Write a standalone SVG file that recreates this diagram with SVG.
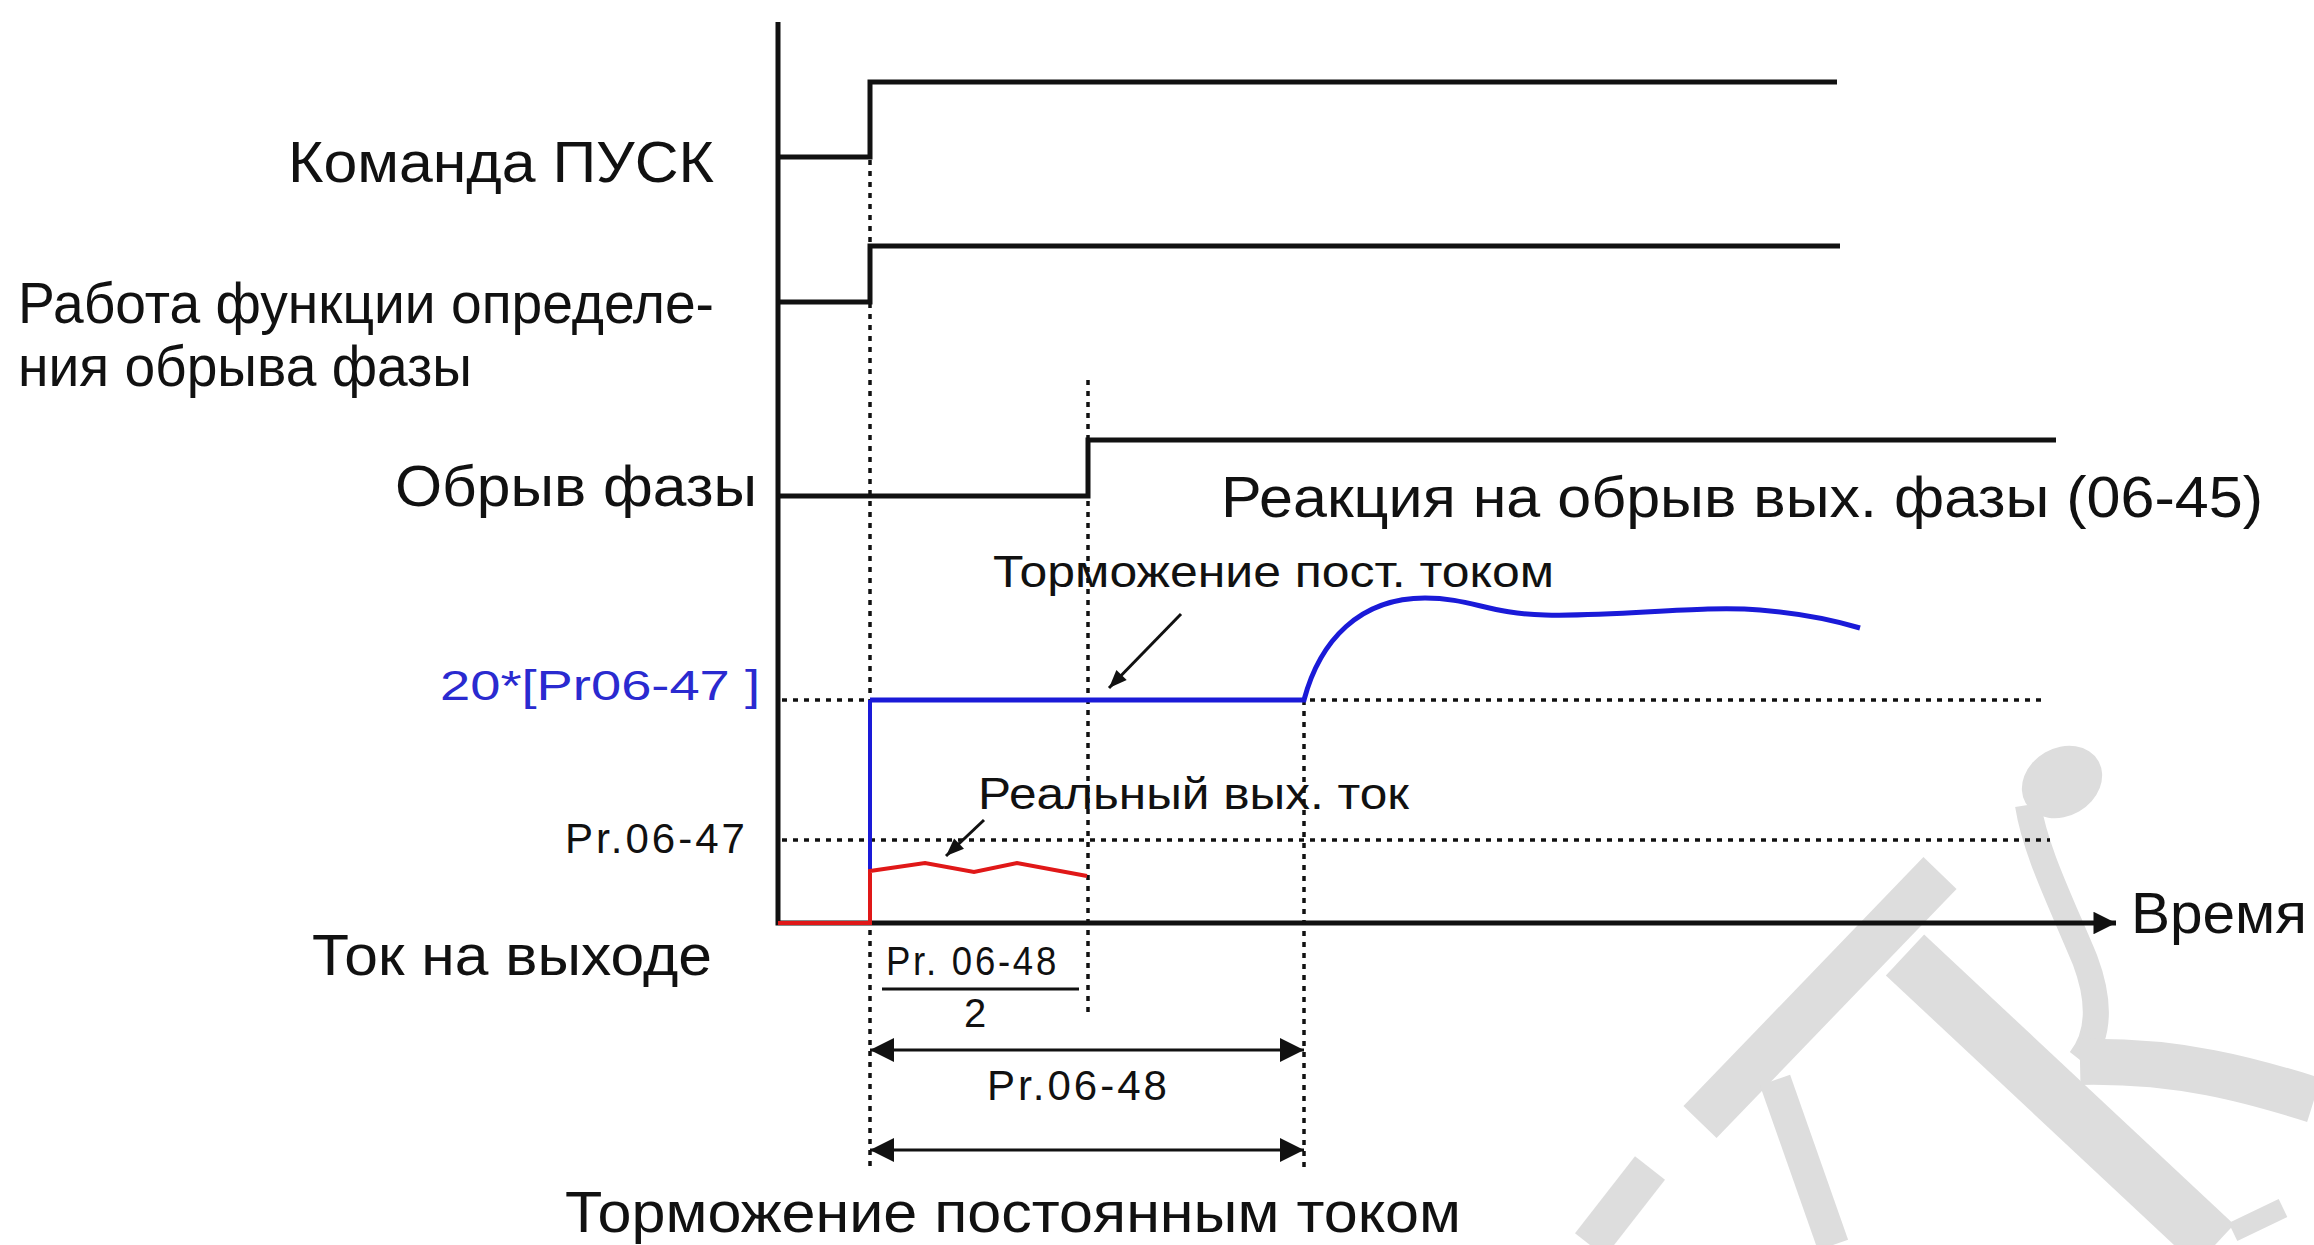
<svg xmlns="http://www.w3.org/2000/svg" width="2314" height="1245" viewBox="0 0 2314 1245">
<style>
text{font-family:"Liberation Sans",Arial,sans-serif;fill:#111}
.big{font-size:58px}
.sm{font-size:44px}
.pr{font-size:42px;letter-spacing:3px}
.sig{fill:none;stroke:#111;stroke-width:5}
.axis{fill:none;stroke:#111;stroke-width:5}
.dot{fill:none;stroke:#111;stroke-width:3.5;stroke-dasharray:5 6}
.wm{fill:none;stroke:#dddddd;stroke-linecap:butt}
</style>
<defs>
<marker id="ah" viewBox="0 0 10 10" refX="10" refY="5" markerWidth="9" markerHeight="8" orient="auto-start-reverse" markerUnits="strokeWidth">
<path d="M0,0 L10,5 L0,10 z" fill="#111"/>
</marker>
<marker id="ax" viewBox="0 0 10 10" refX="10" refY="5" markerWidth="5.5" markerHeight="4.5" orient="auto" markerUnits="strokeWidth">
<path d="M0,0 L10,5 L0,10 z" fill="#111"/>
</marker>
<marker id="pt" viewBox="0 0 10 10" refX="10" refY="5" markerWidth="8" markerHeight="6" orient="auto" markerUnits="strokeWidth">
<path d="M0,1 L10,5 L0,9 z" fill="#111"/>
</marker>
</defs>
<g id="watermark">
<path class="wm" stroke-width="46" d="M1940,873 L1700,1122"/>
<path class="wm" stroke-width="56" d="M1905,955 L2215,1245"/>
<path class="wm" stroke-width="38" d="M1650,1168 L1590,1245"/>
<path class="wm" stroke-width="32" d="M1775,1080 L1833,1245"/>
<path class="wm" stroke-width="26" d="M2028,805 C2035,850 2060,900 2085,960 C2100,1000 2100,1035 2080,1060"/>
<ellipse cx="2062" cy="782" rx="42" ry="34" fill="#dddddd" transform="rotate(-30 2062 782)"/>
<path class="wm" stroke-width="46" d="M2080,1062 C2180,1060 2250,1080 2314,1100"/>
<path class="wm" stroke-width="20" d="M2233,1232 L2283,1208"/>
</g>
<g id="axes">
<path class="axis" d="M778,22 L778,923 L2116,923" marker-end="url(#ax)"/>
</g>
<g id="guides">
<path class="dot" d="M870,160 L870,1167"/>
<path class="dot" d="M1088,380 L1088,1016"/>
<path class="dot" d="M1304,700 L1304,1167"/>
<path class="dot" d="M782,700 L2044,700"/>
<path class="dot" d="M782,840 L2050,840"/>
</g>
<g id="sig-pusk">
<path class="sig" d="M778,157 L870,157 L870,82 L1837,82"/>
<text class="big" x="288" y="182" textLength="426" lengthAdjust="spacingAndGlyphs">Команда ПУСК</text>
</g>
<g id="sig-detect">
<path class="sig" d="M778,302 L870,302 L870,246 L1840,246"/>
<text class="big" x="18" y="323" textLength="696" lengthAdjust="spacingAndGlyphs">Работа функции определе-</text>
<text class="big" x="18" y="386" textLength="454" lengthAdjust="spacingAndGlyphs">ния обрыва фазы</text>
</g>
<g id="sig-phaseloss">
<path class="sig" d="M778,496 L1088,496 L1088,440 L2056,440"/>
<text class="big" x="395" y="506" textLength="362" lengthAdjust="spacingAndGlyphs">Обрыв фазы</text>
<text class="big" x="1221" y="517" textLength="1042" lengthAdjust="spacingAndGlyphs">Реакция на обрыв вых. фазы (06-45)</text>
</g>
<g id="current">
<path d="M870,700 L870,871" fill="none" stroke="#1a1ad8" stroke-width="4"/>
<path d="M870,700 L1304,700 C1320,640 1360,598 1425,598 C1470,598 1490,614 1545,615 C1620,617 1700,605 1760,610 C1810,614 1840,622 1860,628" fill="none" stroke="#1a1ad8" stroke-width="5"/>
<path d="M778,923 L870,923 L870,871 L925,863 L974,872 L1017,863 L1087,876" fill="none" stroke="#e01818" stroke-width="4"/>
<text x="440" y="700" textLength="320" lengthAdjust="spacingAndGlyphs" style="font-size:42px;fill:#2a2ad0">20*[Pr06-47 ]</text>
<text class="pr" x="565" y="853" textLength="183" lengthAdjust="spacingAndGlyphs">Pr.06-47</text>
<text class="big" x="312" y="975" textLength="400" lengthAdjust="spacingAndGlyphs">Ток на выходе</text>
<text class="big" x="2131" y="933" textLength="176" lengthAdjust="spacingAndGlyphs">Время</text>
</g>
<g id="annotations">
<path d="M1181,614 L1109,688" fill="none" stroke="#111" stroke-width="3" marker-end="url(#pt)"/>
<text class="sm" x="993" y="587" textLength="561" lengthAdjust="spacingAndGlyphs">Торможение пост. током</text>
<path d="M984,820 L946,856" fill="none" stroke="#111" stroke-width="3" marker-end="url(#pt)"/>
<text class="sm" x="978" y="809" textLength="431" lengthAdjust="spacingAndGlyphs">Реальный вых. ток</text>
</g>
<g id="timing">
<text class="pr" x="886" y="975" textLength="173" lengthAdjust="spacingAndGlyphs" style="font-size:40px">Pr. 06-48</text>
<path d="M882,989 L1079,989" stroke="#111" stroke-width="3"/>
<text class="pr" x="975" y="1027" text-anchor="middle" style="font-size:40px;letter-spacing:0">2</text>
<path d="M870,1050 L1304,1050" fill="none" stroke="#111" stroke-width="3" marker-start="url(#ah)" marker-end="url(#ah)"/>
<text class="pr" x="987" y="1100" textLength="183" lengthAdjust="spacingAndGlyphs">Pr.06-48</text>
<path d="M870,1150 L1304,1150" fill="none" stroke="#111" stroke-width="3" marker-start="url(#ah)" marker-end="url(#ah)"/>
<text class="big" x="565" y="1232" textLength="896" lengthAdjust="spacingAndGlyphs">Торможение постоянным током</text>
</g>
</svg>
